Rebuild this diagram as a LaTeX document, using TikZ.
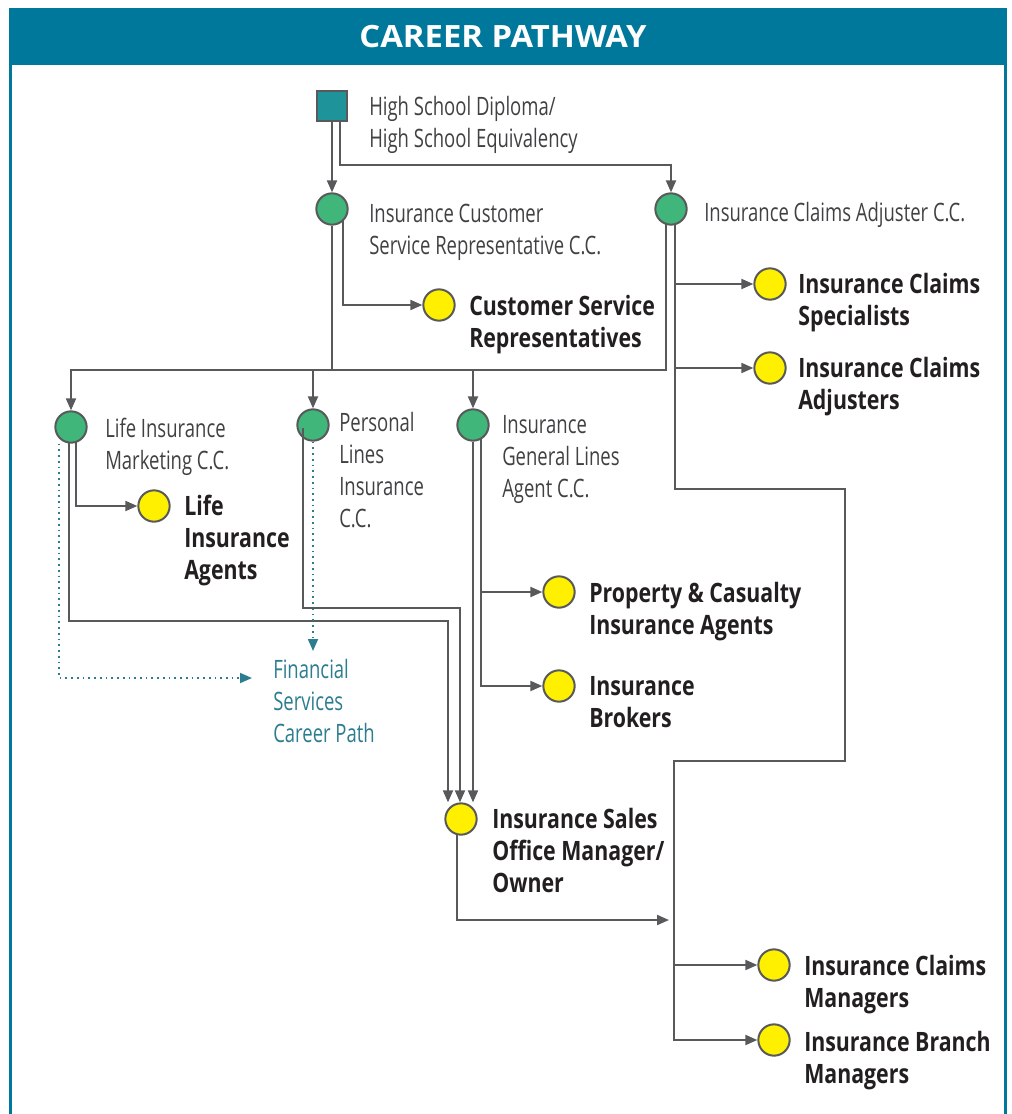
\documentclass[tikz,border=0pt]{standalone}
\usepackage{fontspec}
\setmainfont{Open Sans}[FakeStretch=0.73, BoldFeatures={FakeStretch=0.80}]
\newfontfamily\titlefont{Open Sans}[FakeStretch=1.07]
\usetikzlibrary{calc,arrows.meta,backgrounds}

\definecolor{headteal}{RGB}{0,120,155}
\definecolor{sqteal}{RGB}{30,147,153}
\definecolor{certgreen}{RGB}{64,182,122}
\definecolor{jobyellow}{RGB}{255,240,0}
\definecolor{linegray}{RGB}{88,89,91}
\definecolor{txtgray}{RGB}{65,65,67}
\definecolor{txtblack}{RGB}{35,31,32}
\definecolor{pathteal}{RGB}{44,125,143}

\tikzset{
  cert/.style={circle, draw=linegray, line width=1.5pt, fill=certgreen, minimum size=23.5pt, inner sep=0pt},
  job/.style={cert, fill=jobyellow},
  lbl/.style={anchor=north west, inner sep=0pt, align=left, text=txtgray, font=\fontsize{19}{24}\selectfont},
  joblbl/.style={lbl, text=txtblack, font=\fontsize{20}{24}\selectfont\bfseries},
  link/.style={draw=linegray, line width=1.5pt},
  arrow/.style={link, -{Triangle[length=9pt,width=7.5pt]}},
  dotarrow/.style={draw=pathteal, line width=1.3pt, dash pattern=on 1.3pt off 3pt, -{Triangle[length=9pt,width=7.5pt]}}
}

\begin{document}
\begin{tikzpicture}[x=0.75pt, y=-0.75pt]
		%%%%% FRAME %%%%%
		\useasboundingbox (0,0) rectangle (1011,1114);
		\fill[headteal] (9,8) rectangle (1007,65);
		\draw[headteal, line width=2.5pt] (10.5,65) -- (10.5,1114);
		\draw[headteal, line width=2.5pt] (1005.5,65) -- (1005.5,1114);
		\node[font=\titlefont\fontsize{23}{28}\selectfont\bfseries, text=white] (title) at (503,37) {CAREER PATHWAY};
		
		%%%%% STEPS %%%%%
		\node[draw=linegray, line width=1.5pt, fill=sqteal, minimum size=23pt, inner sep=0pt] (hs) at (332,106) {};
		\node[cert] (icsr) at (332,209) {};
		\node[cert] (ica) at (671,209) {};
		\node[job] (csr) at (439,305) {};
		\node[job] (ics) at (770,284) {};
		\node[job] (icad) at (770,368) {};
		\node[cert] (lim) at (71,427) {};
		\node[cert] (pli) at (313,425) {};
		\node[cert] (igl) at (473,425) {};
		\node[job] (lia) at (154,506) {};
		\node[job] (pca) at (559,592) {};
		\node[job] (ib) at (559,686) {};
		\node[job] (sales) at (461,819) {};
		\node[job] (icm) at (774,965) {};
		\node[job] (ibm) at (774,1040) {};
		\coordinate (bus) at (332,370);
		
		%%%%% LABELS %%%%%
		\node[lbl] (hslbl) at (369,96) {High School Diploma/\\High School Equivalency};
		\node[lbl] (icsrlbl) at (369,204) {Insurance Customer\\Service Representative C.C.};
		\node[lbl] (icalbl) at (704,202) {Insurance Claims Adjuster C.C.};
		\node[lbl] (limlbl) at (105,418) {Life Insurance\\Marketing C.C.};
		\node[lbl] (plilbl) at (339,412) {Personal\\Lines\\Insurance\\C.C.};
		\node[lbl] (igllbl) at (502,415) {Insurance\\General Lines\\Agent C.C.};
		\node[lbl, text=pathteal] (fs) at (273,659) {Financial\\Services\\Career Path};
		\node[joblbl] (csrlbl) at (469,295) {Customer Service\\Representatives};
		\node[joblbl] (icslbl) at (798,273) {Insurance Claims\\Specialists};
		\node[joblbl] (icadlbl) at (798,357) {Insurance Claims\\Adjusters};
		\node[joblbl] (lialbl) at (184,495) {Life\\Insurance\\Agents};
		\node[joblbl] (pcalbl) at (589,582) {Property \& Casualty\\Insurance Agents};
		\node[joblbl] (iblbl) at (589,676) {Insurance\\Brokers};
		\node[joblbl] (saleslbl) at (492,808) {Insurance Sales\\Office Manager/\\Owner};
		\node[joblbl] (icmlbl) at (804,955) {Insurance Claims\\Managers};
		\node[joblbl] (ibmlbl) at (804,1031) {Insurance Branch\\Managers};
		
		%%%%% PATHS %%%%%
		\begin{scope}[on background layer]
		\draw[arrow] (hs) -- (icsr.north);
		\draw[arrow] ($(hs)+(8,0)$) -- ++(0,59) -| (ica.north);
		\draw[arrow] ($(icsr)+(11,0)$) |- (csr.west);
		\draw[link] (icsr) -- (bus);
		\draw[link] ($(ica)+(-5,0)$) |- (bus);
		\draw[arrow] (bus) -| (lim.north);
		\draw[arrow] (bus) -| (pli.north);
		\draw[arrow] (bus -| igl) -- (igl.north);
		
		% claims side
		\draw[arrow] ($(ica)+(4,0)$) -- ++(0,280) -- ++(170,0) -- ++(0,272) -- ++(-171,0) |- (ibm.west);
		\draw[arrow] ($(ics.west -| ica)+(4,0)$) -- (ics.west);
		\draw[arrow] ($(icad.west -| ica)+(4,0)$) -- (icad.west);
		\draw[arrow] ($(icm.west -| ica)+(3,0)$) -- (icm.west);
		
		% life
		\draw[arrow] ($(lim)+(5,0)$) |- (lia.west);
		\draw[arrow] ($(lim)+(-2,0)$) -- ++(0,194) -| ($(sales.north)+(-13,0)$);
		\draw[dotarrow] ($(lim.south)+(-12,0)$) |- ($(fs.north west)+(-21,19)$);
		
		% personal
		\draw[dotarrow] (pli.south) -- ($(pli |- fs.north)+(0,-8)$);
		
		% general
		\draw[arrow] (igl) -- (igl |- sales.north);
		\draw[arrow] ($(igl)+(8,0)$) |- (ib.west);
		\draw[arrow] ($(pca.west -| igl)+(8,0)$) -- (pca.west);
		
		% sales
		\draw[arrow] ($(sales)+(-4,0)$) |- ($(ica |- sales)+(-2,101)$);
		\end{scope}
		\draw[arrow] ($(pli)+(-10,3)$) -- ++(0,180) -| ($(sales.north)+(-1,0)$);
		
		%%%%% END %%%%%
	\end{tikzpicture}
\end{document}
